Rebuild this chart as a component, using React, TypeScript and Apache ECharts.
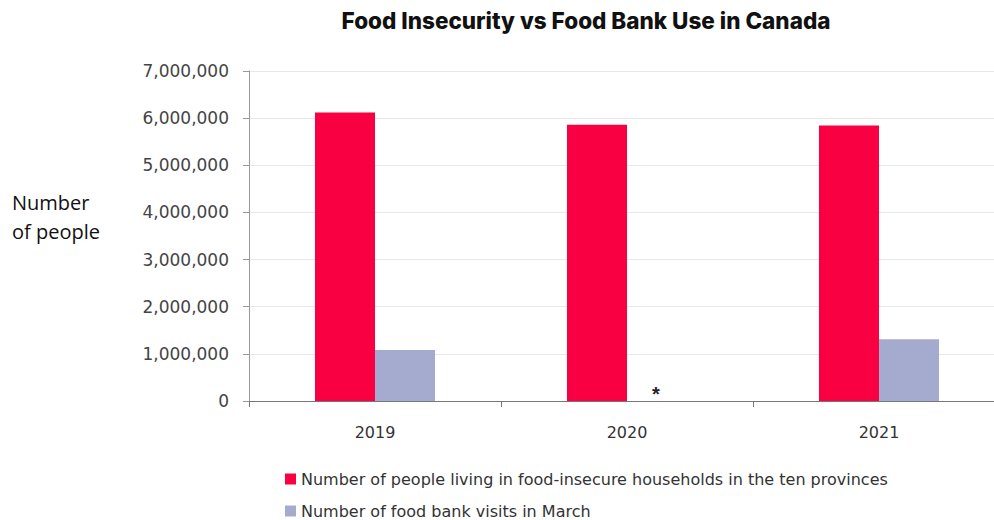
import React, { useEffect, useRef } from "react";
import * as echarts from "echarts";

const categories = ["2019", "2020", "2021"];
const foodInsecure = [6120000, 5860000, 5845000];
const foodBankVisits: (number | null)[] = [1083000, 0, 1310000];
const yTicks = [0, 1000000, 2000000, 3000000, 4000000, 5000000, 6000000, 7000000];
const seriesNames = [
  "Number of people living in food-insecure households in the ten provinces",
  "Number of food bank visits in March",
];

export default function App() {
  const ref = useRef<HTMLDivElement>(null);
  useEffect(() => {
    const chart = echarts.init(ref.current!, null, { renderer: "svg" });
    const legendBase = {
      orient: "horizontal",
      left: 280,
      itemWidth: 11,
      itemHeight: 11,
      itemGap: 4,
      icon: "rect",
      textStyle: { fontFamily: "DejaVu Sans", fontSize: 16, color: "#333333" },
    };
    chart.setOption({
      animation: false,
      backgroundColor: "#ffffff",
      title: {
        text: "Food Insecurity vs Food Bank Use in Canada",
        left: 581,
        textAlign: "center",
        top: 4,
        textStyle: {
          fontFamily: "Inter",
          fontWeight: 800,
          fontSize: 22.5,
          color: "#111111",
        },
      },
      legend: [
        { ...legendBase, top: 466, data: [seriesNames[0]] },
        { ...legendBase, top: 498, data: [seriesNames[1]] },
      ],
      grid: { left: 249, top: 71, width: 756, height: 330, containLabel: false },
      xAxis: {
        type: "category",
        data: categories,
        axisLine: { lineStyle: { color: "#777777", width: 1 } },
        axisTick: { show: true, length: 6, lineStyle: { color: "#777777" } },
        axisLabel: { fontFamily: "DejaVu Sans", fontSize: 16, color: "#333333", margin: 23 },
      },
      yAxis: {
        type: "value",
        min: yTicks[0],
        max: yTicks[yTicks.length - 1],
        interval: 1000000,
        axisLine: { show: true, lineStyle: { color: "#999999", width: 1 } },
        axisTick: { show: true, length: 6, lineStyle: { color: "#999999" } },
        splitLine: { lineStyle: { color: "#e8e8e8", width: 1 } },
        axisLabel: {
          fontFamily: "DejaVu Sans",
          fontSize: 17,
          color: "#444444",
          margin: 20,
          formatter: (v: number) => v.toLocaleString("en-US"),
        },
      },
      series: [
        {
          name: seriesNames[0],
          type: "bar",
          data: foodInsecure,
          barWidth: 60,
          barGap: "0%",
          itemStyle: { color: "#f80041" },
        },
        {
          name: seriesNames[1],
          type: "bar",
          barWidth: 60,
          data: foodBankVisits.map((v, i) =>
            i === 1
              ? {
                  value: v,
                  label: {
                    show: true,
                    position: "top",
                    formatter: "*",
                    fontSize: 20,
                    fontWeight: "bold",
                    color: "#222222",
                    offset: [-1, 8],
                  },
                }
              : v
          ),
          itemStyle: { color: "#a5abcf" },
        },
      ],
      graphic: [
        {
          type: "text",
          left: 12,
          top: 188,
          style: {
            text: "Number\nof people",
            fontFamily: "Open Sans",
            fontSize: 20,
            lineHeight: 29,
            fill: "#111111",
          },
        },
      ],
    });
    return () => chart.dispose();
  }, []);
  return (
    <div
      ref={ref}
      style={{ position: "fixed", left: 0, top: 0, width: 1010, height: 520 }}
    />
  );
}
